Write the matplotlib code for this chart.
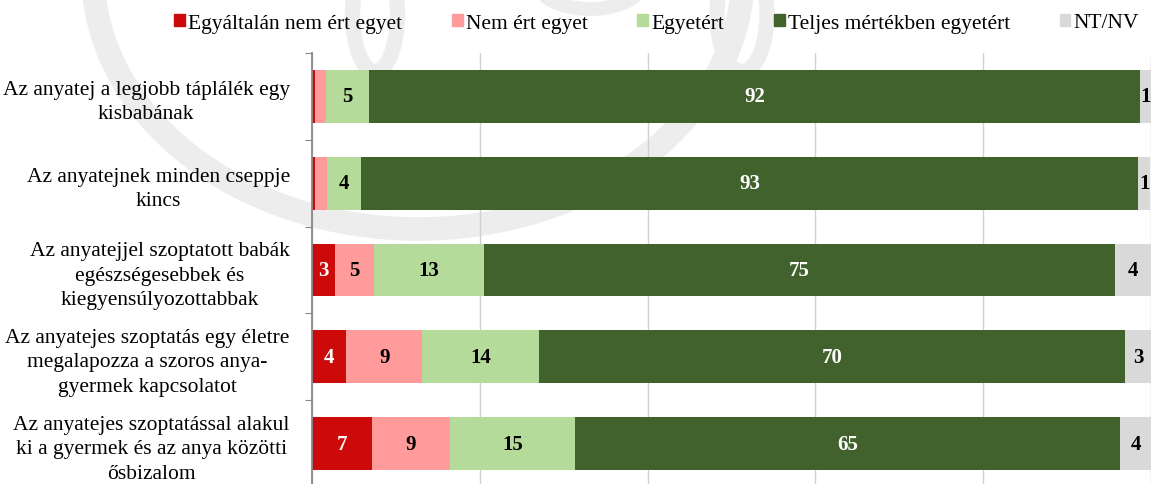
import numpy as np
import matplotlib
matplotlib.use("Agg")
from matplotlib import pyplot as plt
from matplotlib.patches import Arc, Ellipse

plt.rcParams['font.family'] = ['Liberation Serif', 'DejaVu Serif']

# --- data ---------------------------------------------------------------
statements = [
    "Az anyatej a legjobb táplálék egy\nkisbabának",
    "Az anyatejnek minden cseppje\nkincs",
    "Az anyatejjel szoptatott babák\negészségesebbek és\nkiegyensúlyozottabbak",
    "Az anyatejes szoptatás egy életre\nmegalapozza a szoros anya-\ngyermek kapcsolatot",
    "Az anyatejes szoptatással alakul\nki a gyermek és az anya közötti\nősbizalom",
]
categories = ["Egyáltalán nem ért egyet", "Nem ért egyet", "Egyetért",
              "Teljes mértékben egyetért", "NT/NV"]
strongly_disagree = [0.3, 0.3, 2.8, 4.1, 7.1]
disagree = [1.4, 1.5, 4.6, 9.0, 9.4]
agree = [5.1, 4.0, 13.1, 14.0, 14.8]
strongly_agree = [91.9, 92.7, 75.2, 69.8, 65.0]
dont_know = [1.3, 1.4, 4.3, 3.1, 3.7]

series = [strongly_disagree, disagree, agree, strongly_agree, dont_know]
colors = ["#cc0a0a", "#ff9b9b", "#b5db9a", "#42622d", "#d9d9d9"]
text_colors = ["white", "black", "black", "white", "black"]

fig = plt.figure(figsize=(11.56, 4.85), dpi=100)

# faint logo watermark behind everything
wm = "#ededed"
fig.patches.append(Arc((418, 510), 650, 510, theta1=180, theta2=360,
                       transform=None, color=wm, lw=17, zorder=-5))
fig.patches.append(Ellipse((375, 470), 45, 115, transform=None,
                           fill=False, ec=wm, lw=11, zorder=-5))
fig.patches.append(Ellipse((742, 470), 50, 115, transform=None,
                           fill=False, ec=wm, lw=11, zorder=-5))
fig.patches.append(Arc((590, 505), 110, 60, theta1=200, theta2=340,
                       transform=None, color=wm, lw=10, zorder=-5))

ax = fig.add_axes([312 / 1156, -3 / 485, 839 / 1156, 434 / 485])
ax.set_facecolor("none")

y = np.arange(len(statements))
left = np.zeros(len(statements))
for vals, col, tcol in zip(series, colors, text_colors):
    vals = np.array(vals)
    ax.barh(y, vals, left=left, height=0.61, color=col, zorder=3)
    last = col == colors[-1]
    for yi, (l, v) in enumerate(zip(left, vals)):
        if v >= 2 or last:
            ax.text(l + v / 2, yi, "%d" % round(v), ha="center", va="center",
                    color=tcol, fontsize=15, fontweight="bold", zorder=4)
    left += vals

ax.set_xlim(0, 100)
ax.set_ylim(len(statements) - 0.5, -0.5)
ax.set_xticks([0, 20, 40, 60, 80, 100])
ax.xaxis.grid(True, color="#d0d0d0", lw=1, zorder=0)
ax.tick_params(axis="x", length=0, labelbottom=False)

ax.set_yticks(np.arange(-0.5, len(statements)), minor=False)
ax.set_yticklabels([])
ax.set_yticks(y, minor=True)
ax.set_yticklabels(statements, minor=True, fontsize=15.5, ha="right",
                   multialignment="center", linespacing=1.38)
ax.tick_params(axis="y", which="major", length=5, color="#888888")
ax.tick_params(axis="y", which="minor", length=0, pad=16)

for s in ["top", "right", "bottom"]:
    ax.spines[s].set_visible(False)
ax.spines["left"].set_color("#888888")
ax.spines["left"].set_linewidth(1.3)
ax.spines["left"].set_zorder(5)

handles = [plt.Rectangle((0, 0), 1, 1, color=c) for c in colors]
fig.legend(handles, categories, loc="center", bbox_to_anchor=(0.568, 1 - 24 / 485),
           ncol=5, frameon=False, fontsize=15.5, handlelength=0.5,
           handleheight=0.5, handletextpad=0.15, columnspacing=2.3,
           borderpad=0)

fig.savefig("out.png", dpi=100)
